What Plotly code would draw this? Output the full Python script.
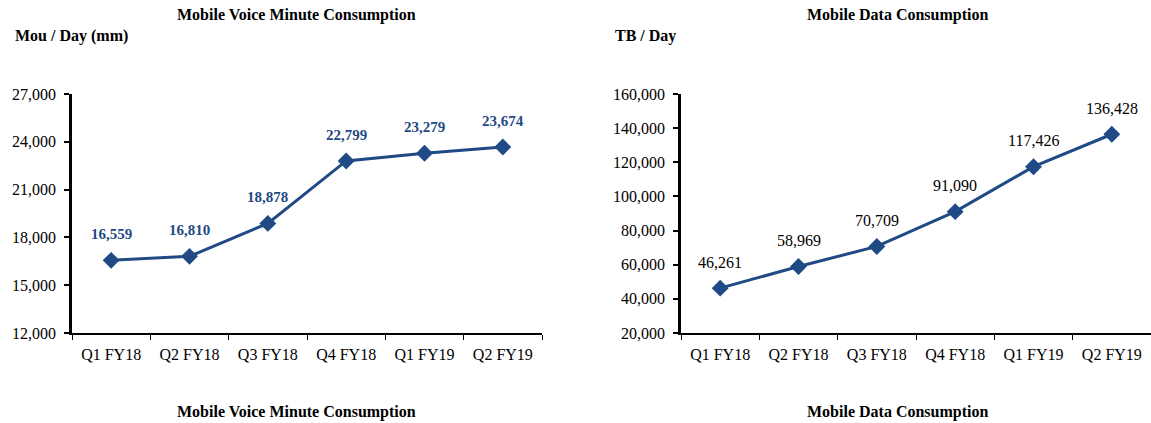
import plotly.graph_objects as go

categories = ["Q1 FY18", "Q2 FY18", "Q3 FY18", "Q4 FY18", "Q1 FY19", "Q2 FY19"]
voice_values = [16559, 16810, 18878, 22799, 23279, 23674]
data_values = [46261, 58969, 70709, 91090, 117426, 136428]
voice_ticks = [12000, 15000, 18000, 21000, 24000, 27000]
data_ticks = [20000, 40000, 60000, 80000, 100000, 120000, 140000, 160000]

LINE = "#1F4A85"
FONT = "Liberation Serif"

fig = go.Figure()
fig.add_trace(go.Scatter(x=categories, y=voice_values, mode="lines+markers",
                         line=dict(color=LINE, width=3),
                         marker=dict(symbol="diamond", size=13, color=LINE),
                         xaxis="x", yaxis="y", hoverinfo="x+y"))
fig.add_trace(go.Scatter(x=categories, y=data_values, mode="lines+markers",
                         line=dict(color=LINE, width=3),
                         marker=dict(symbol="diamond", size=13, color=LINE),
                         xaxis="x2", yaxis="y2", hoverinfo="x+y"))

annotations = []
for c, v in zip(categories, voice_values):
    annotations.append(dict(x=c, y=v, xref="x", yref="y", text=f"<b>{v:,}</b>",
                            showarrow=False, yshift=26,
                            font=dict(family=FONT, size=15, color=LINE)))
for c, v in zip(categories, data_values):
    annotations.append(dict(x=c, y=v, xref="x2", yref="y2", text=f"{v:,}",
                            showarrow=False, yshift=26,
                            font=dict(family=FONT, size=16, color="#000000")))

def txt(x, y, t, xanchor="center"):
    return dict(x=x, y=y, xref="paper", yref="paper", text=t, showarrow=False,
                xanchor=xanchor, yanchor="middle",
                font=dict(family=FONT, size=16, color="#000000"))

annotations += [
    txt(296 / 1151, 1 - 15 / 423, "<b>Mobile Voice Minute Consumption</b>"),
    txt(13 / 1151, 1 - 36 / 423, "<b>Mou / Day (mm)</b>", "left"),
    txt(296 / 1151, 1 - 412 / 423, "<b>Mobile Voice Minute Consumption</b>"),
    txt(897 / 1151, 1 - 15 / 423, "<b>Mobile Data Consumption</b>"),
    txt(613 / 1151, 1 - 36 / 423, "<b>TB / Day</b>", "left"),
    txt(897 / 1151, 1 - 412 / 423, "<b>Mobile Data Consumption</b>"),
]

ydom = [1 - 333 / 423, 1 - 94 / 423]
xcommon = dict(showline=True, linecolor="#000000", linewidth=2, ticks="outside",
               tickson="boundaries", ticklen=5, tickcolor="#000000", showgrid=False,
               automargin=False, ticklabelstandoff=6, range=[-0.5, 5.5],
               tickfont=dict(family=FONT, size=16, color="#000000"), fixedrange=True)
ycommon = dict(showline=True, linecolor="#000000", linewidth=2.5, ticks="outside",
               ticklen=5, tickcolor="#000000", tickwidth=2, showgrid=False, zeroline=False,
               automargin=False, ticklabelstandoff=5,
               tickformat=",d", tickfont=dict(family=FONT, size=16, color="#000000"))

fig.update_layout(
    template="none",
    width=1151, height=423,
    margin=dict(l=0, r=0, t=0, b=0, autoexpand=False),
    paper_bgcolor="#ffffff", plot_bgcolor="#ffffff",
    showlegend=False,
    xaxis=dict(domain=[72 / 1151, 542 / 1151], anchor="y", **xcommon),
    yaxis=dict(domain=ydom, anchor="x", range=[12000, 27000], tickvals=voice_ticks, **ycommon),
    xaxis2=dict(domain=[681 / 1151, 1.0], anchor="y2", **xcommon),
    yaxis2=dict(domain=ydom, anchor="x2", range=[20000, 160000], tickvals=data_ticks, **ycommon),
    annotations=annotations,
)

fig.write_html("out.html", config={"displayModeBar": False},
               post_script="document.body.style.margin='0px';document.body.style.overflow='hidden';")
